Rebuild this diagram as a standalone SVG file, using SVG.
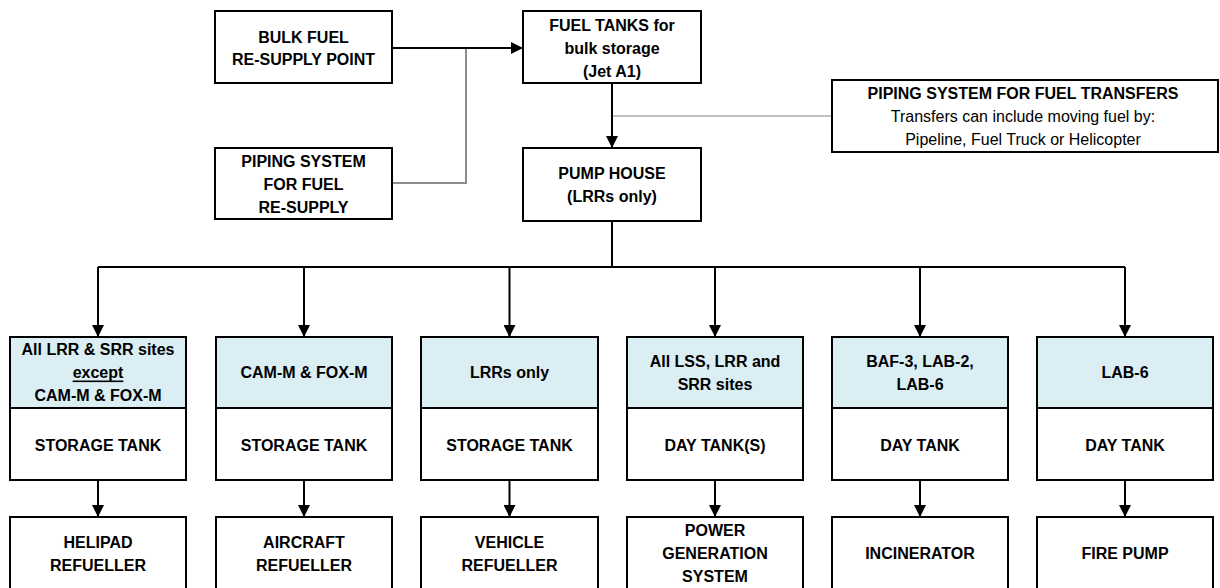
<svg xmlns="http://www.w3.org/2000/svg" width="1220" height="588" viewBox="0 0 1220 588">
<defs>
<marker id="ah" markerWidth="12" markerHeight="12" refX="12" refY="6" orient="auto" markerUnits="userSpaceOnUse">
<path d="M0,0 L12,6 L0,12 Z" fill="#000"/>
</marker>
<style>
.box{fill:#fff;stroke:#000;stroke-width:2}
.hdr{fill:#daeef3;stroke:#000;stroke-width:2}
.t{font-family:"Liberation Sans",Arial,sans-serif;font-size:16px;font-weight:bold;fill:#000;text-anchor:middle;dominant-baseline:central}
.r{font-weight:normal}
.c{fill:none;stroke:#000;stroke-width:2}
.g1{fill:none;stroke:#8c8c8c;stroke-width:2}
.g2{fill:none;stroke:#c0c0c0;stroke-width:2}
</style>
</defs>
<rect width="1220" height="588" fill="#fff"/>
<g id="connectors">
<path class="g1" d="M392,183 H466 V48"/>
<path class="g2" d="M612,116 H832"/>
<path class="c" d="M392,48 H523" marker-end="url(#ah)"/>
<path class="c" d="M612,83 V148" marker-end="url(#ah)"/>
<path class="c" d="M612,221 V267"/>
<path class="c" d="M98,267 H1125"/>
<path class="c" d="M98,267 V337" marker-end="url(#ah)"/>
<path class="c" d="M304,267 V337" marker-end="url(#ah)"/>
<path class="c" d="M509.5,267 V337" marker-end="url(#ah)"/>
<path class="c" d="M715,267 V337" marker-end="url(#ah)"/>
<path class="c" d="M920,267 V337" marker-end="url(#ah)"/>
<path class="c" d="M1125,267 V337" marker-end="url(#ah)"/>
<path class="c" d="M98,480 V517" marker-end="url(#ah)"/>
<path class="c" d="M304,480 V517" marker-end="url(#ah)"/>
<path class="c" d="M509.5,480 V517" marker-end="url(#ah)"/>
<path class="c" d="M715,480 V517" marker-end="url(#ah)"/>
<path class="c" d="M920,480 V517" marker-end="url(#ah)"/>
<path class="c" d="M1125,480 V517" marker-end="url(#ah)"/>
</g>
<g id="bulk">
<rect class="box" x="215" y="11" width="177" height="72"/>
<text class="t" x="303.5" y="37">BULK FUEL</text>
<text class="t" x="303.5" y="59">RE-SUPPLY POINT</text>
</g>
<g id="fueltanks">
<rect class="box" x="523" y="11" width="178" height="72"/>
<text class="t" x="612" y="25">FUEL TANKS for</text>
<text class="t" x="612" y="48">bulk storage</text>
<text class="t" x="612" y="71">(Jet A1)</text>
</g>
<g id="pipingresupply">
<rect class="box" x="215" y="148" width="177" height="71"/>
<text class="t" x="303.5" y="161">PIPING SYSTEM</text>
<text class="t" x="303.5" y="184">FOR FUEL</text>
<text class="t" x="303.5" y="207">RE-SUPPLY</text>
</g>
<g id="pumphouse">
<rect class="box" x="523" y="148" width="178" height="73"/>
<text class="t" x="612" y="173">PUMP HOUSE</text>
<text class="t" x="612" y="196">(LRRs only)</text>
</g>
<g id="transfers">
<rect class="box" x="832" y="80" width="386" height="72"/>
<text class="t" x="1023" y="93">PIPING SYSTEM FOR FUEL TRANSFERS</text>
<text class="t r" x="1023" y="116">Transfers can include moving fuel by:</text>
<text class="t r" x="1023" y="139">Pipeline, Fuel Truck or Helicopter</text>
</g>
<g id="col1">
<rect class="hdr" x="10" y="337" width="176" height="71"/>
<rect class="box" x="10" y="408" width="176" height="72"/>
<text class="t" x="98" y="349">All LRR &amp; SRR sites</text>
<text class="t" x="98" y="372" text-decoration="underline">except</text>
<text class="t" x="98" y="395">CAM-M &amp; FOX-M</text>
<text class="t" x="98" y="445">STORAGE TANK</text>
</g>
<g id="col1b">
<rect class="box" x="10" y="517" width="176" height="90"/>
<text class="t" x="98" y="542">HELIPAD</text>
<text class="t" x="98" y="565">REFUELLER</text>
</g>
<g id="col2">
<rect class="hdr" x="216" y="337" width="176" height="71"/>
<rect class="box" x="216" y="408" width="176" height="72"/>
<text class="t" x="304" y="372">CAM-M &amp; FOX-M</text>
<text class="t" x="304" y="445">STORAGE TANK</text>
</g>
<g id="col2b">
<rect class="box" x="216" y="517" width="176" height="90"/>
<text class="t" x="304" y="542">AIRCRAFT</text>
<text class="t" x="304" y="565">REFUELLER</text>
</g>
<g id="col3">
<rect class="hdr" x="421" y="337" width="177" height="71"/>
<rect class="box" x="421" y="408" width="177" height="72"/>
<text class="t" x="509.5" y="372">LRRs only</text>
<text class="t" x="509.5" y="445">STORAGE TANK</text>
</g>
<g id="col3b">
<rect class="box" x="421" y="517" width="177" height="90"/>
<text class="t" x="509.5" y="542">VEHICLE</text>
<text class="t" x="509.5" y="565">REFUELLER</text>
</g>
<g id="col4">
<rect class="hdr" x="627" y="337" width="176" height="71"/>
<rect class="box" x="627" y="408" width="176" height="72"/>
<text class="t" x="715" y="361">All LSS, LRR and</text>
<text class="t" x="715" y="384">SRR sites</text>
<text class="t" x="715" y="445">DAY TANK(S)</text>
</g>
<g id="col4b">
<rect class="box" x="627" y="517" width="176" height="90"/>
<text class="t" x="715" y="530">POWER</text>
<text class="t" x="715" y="553">GENERATION</text>
<text class="t" x="715" y="576">SYSTEM</text>
</g>
<g id="col5">
<rect class="hdr" x="832" y="337" width="176" height="71"/>
<rect class="box" x="832" y="408" width="176" height="72"/>
<text class="t" x="920" y="361">BAF-3, LAB-2,</text>
<text class="t" x="920" y="384">LAB-6</text>
<text class="t" x="920" y="445">DAY TANK</text>
</g>
<g id="col5b">
<rect class="box" x="832" y="517" width="176" height="90"/>
<text class="t" x="920" y="553">INCINERATOR</text>
</g>
<g id="col6">
<rect class="hdr" x="1037" y="337" width="176" height="71"/>
<rect class="box" x="1037" y="408" width="176" height="72"/>
<text class="t" x="1125" y="372">LAB-6</text>
<text class="t" x="1125" y="445">DAY TANK</text>
</g>
<g id="col6b">
<rect class="box" x="1037" y="517" width="176" height="90"/>
<text class="t" x="1125" y="553">FIRE PUMP</text>
</g>
</svg>
